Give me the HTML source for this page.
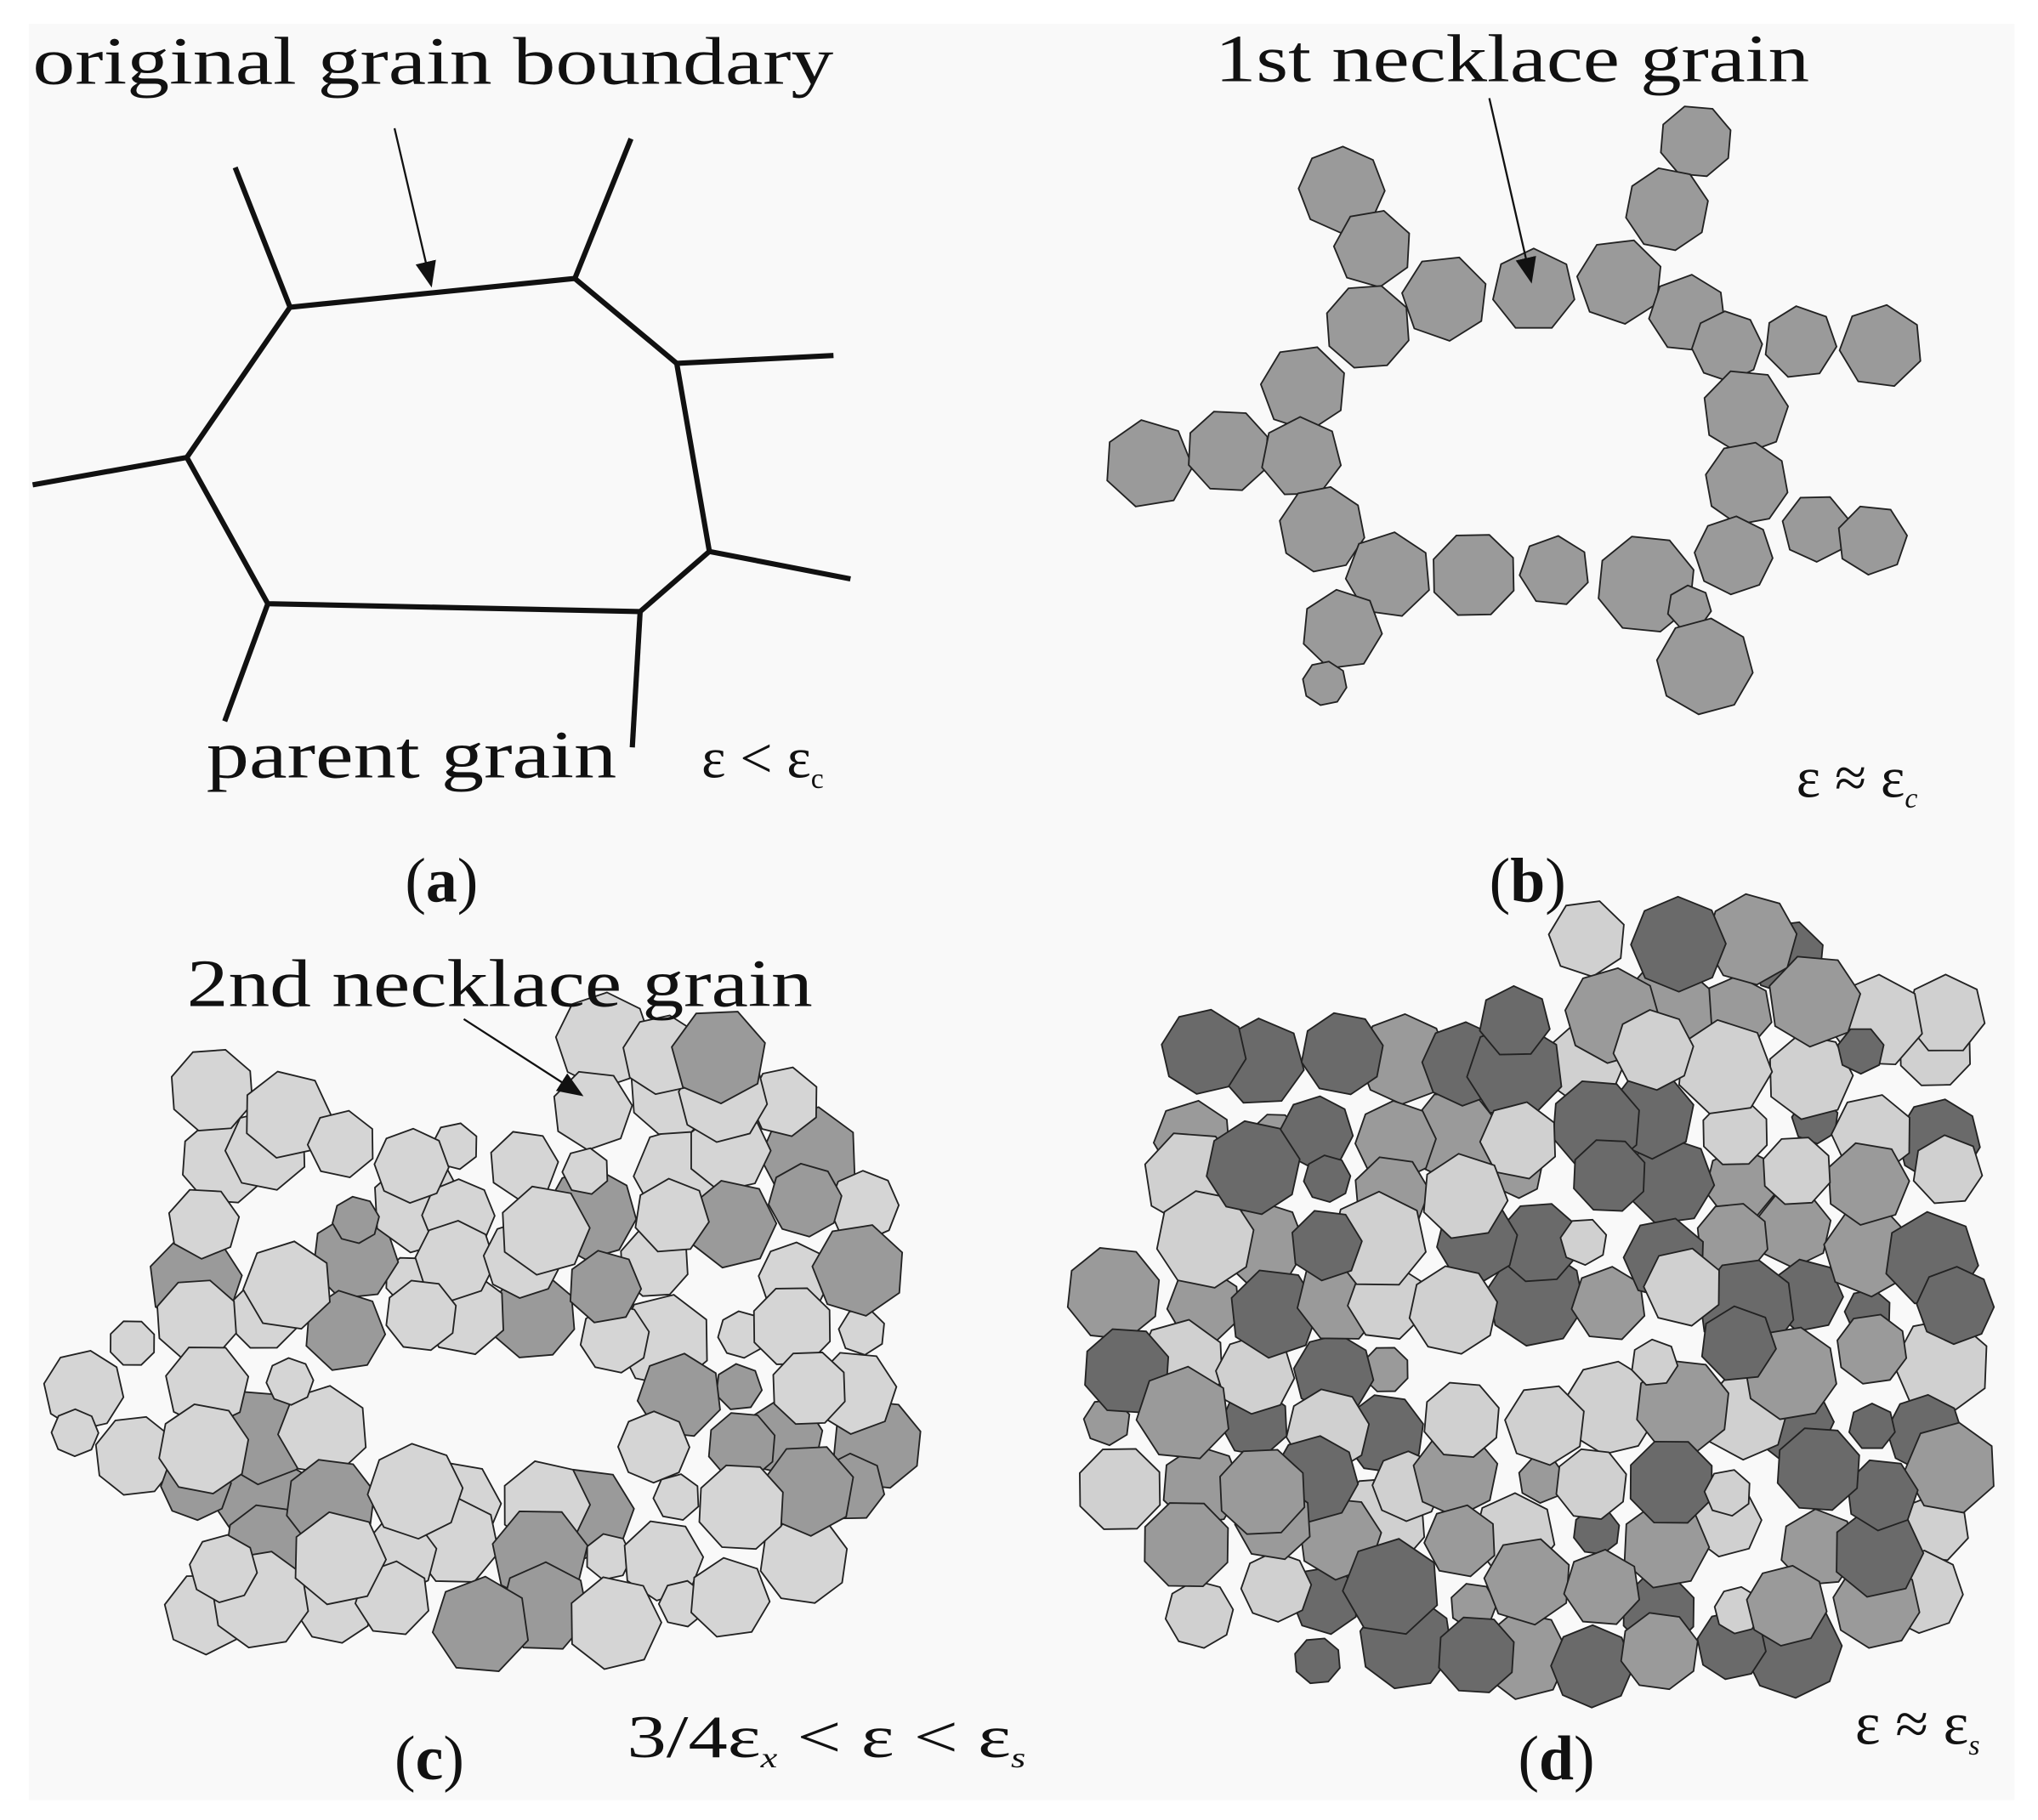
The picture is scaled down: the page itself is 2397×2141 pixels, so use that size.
<!DOCTYPE html>
<html><head><meta charset="utf-8">
<style>
html,body{margin:0;padding:0;background:#fff;}
svg{display:block;}
text{font-family:"Liberation Serif",serif;fill:#111;}
</style></head>
<body>
<svg id="s" width="2397" height="2141" viewBox="0 0 1560 1393" xmlns="http://www.w3.org/2000/svg">
<defs><marker id="ah2" markerWidth="20" markerHeight="16" refX="18" refY="8" orient="auto" markerUnits="userSpaceOnUse"><path d="M0,0 L20,8 L0,16 z" fill="#111"/></marker></defs>
<rect x="0" y="0" width="1560" height="1393" fill="#fff"/>
<rect x="22" y="18" width="1520" height="1360" fill="#f9f9f9"/>
<g id="a" stroke="#111" stroke-width="4" fill="none" stroke-linejoin="round">
<polygon points="222,235 440,213 518,278 543,422 490,468 205,462 143,350"/>
<line x1="222" y1="235" x2="180" y2="128"/><line x1="440" y1="213" x2="483" y2="106"/>
<line x1="518" y1="278" x2="638" y2="272"/><line x1="543" y1="422" x2="651" y2="443"/>
<line x1="490" y1="468" x2="484" y2="572"/><line x1="205" y1="462" x2="172" y2="552"/>
<line x1="143" y1="350" x2="25" y2="371"/>
</g>
<line x1="302" y1="98" x2="330" y2="218" stroke="#111" stroke-width="1.5" marker-end="url(#ah2)"/>
<g id="b"></g><g id="c"></g><g id="d"></g>
<line x1="1140" y1="75" x2="1172" y2="215" stroke="#111" stroke-width="1.5" marker-end="url(#ah2)"/>
<line x1="355" y1="780" x2="445" y2="838" stroke="#111" stroke-width="1.5" marker-end="url(#ah2)"/>
<text x="25" y="64" font-size="52" textLength="613" lengthAdjust="spacingAndGlyphs">original grain boundary</text>
<text x="158" y="595" font-size="52" textLength="314" lengthAdjust="spacingAndGlyphs">parent grain</text>
<text x="537" y="595" font-size="44">ε &lt; ε<tspan font-size="22" dy="8">c</tspan></text>
<text x="310" y="690" font-size="48">(<tspan font-weight="bold">a</tspan>)</text>
<text x="930" y="62" font-size="52" textLength="455" lengthAdjust="spacingAndGlyphs">1st necklace grain</text>
<text x="1375" y="610" font-size="44">ε ≈ ε<tspan font-size="22" dy="8" font-style="italic">c</tspan></text>
<text x="1140" y="690" font-size="48">(<tspan font-weight="bold">b</tspan>)</text>
<text x="143" y="770" font-size="52" textLength="479" lengthAdjust="spacingAndGlyphs">2nd necklace grain</text>
<text x="480" y="1345" font-size="46" textLength="305" lengthAdjust="spacingAndGlyphs">3/4ε<tspan font-size="22" dy="8" font-style="italic">x</tspan><tspan dy="-8"> &lt; ε &lt; ε</tspan><tspan font-size="22" dy="8" font-style="italic">s</tspan></text>
<text x="302" y="1362" font-size="48">(<tspan font-weight="bold">c</tspan>)</text>
<text x="1162" y="1362" font-size="48">(<tspan font-weight="bold">d</tspan>)</text>
<text x="1420" y="1335" font-size="46">ε ≈ ε<tspan font-size="22" dy="8" font-style="italic">s</tspan></text>
</svg>
<script>
var NS="http://www.w3.org/2000/svg";
var seed=7;function rnd(){seed=(seed*16807)%2147483647;return (seed-1)/2147483646;}
function poly(g,cx,cy,r,fill,n,rot){var p=[];for(var i=0;i<n;i++){var a=rot+i*2*Math.PI/n;p.push((cx+r*Math.cos(a)).toFixed(1)+","+(cy+r*Math.sin(a)).toFixed(1));}
var e=document.createElementNS(NS,"polygon");e.setAttribute("points",p.join(" "));e.setAttribute("fill",fill);e.setAttribute("stroke","#222");e.setAttribute("stroke-width","1.2");g.appendChild(e);}
var B=[[1027,145,33],[1298,108,28],[1051,190,30],[1276,160,32],[1106,228,33],[1174,222,32],[1240,215,33],[1047,250,33],[1292,240,30],[1378,262,28],[1440,265,32],[1322,265,27],[998,297,33],[1336,315,33],[879,355,34],[940,345,32],[996,350,31],[1337,370,32],[1012,405,33],[1390,404,26],[1433,413,27],[1327,425,30],[1063,440,33],[1128,440,33],[1190,437,27],[1260,447,38],[1293,465,17],[1027,482,31],[1305,510,37],[1014,523,17]];
var gb=document.getElementById("b");
B.forEach(function(c){poly(gb,c[0],c[1],c[2],"#9a9a9a",7+(rnd()<0.5?1:0),rnd()*6);});
function field(g,x0,x1,y0,y1,inside,cols,step){var L=[];
for(var y=y0;y<=y1;y+=step*0.87){for(var x=x0;x<=x1;x+=step){var cx=x+(rnd()-0.5)*step*0.5,cy=y+(rnd()-0.5)*step*0.5;if(!inside(cx,cy))continue;L.push([cx,cy]);}}
for(var i=L.length-1;i>0;i--){var j=Math.floor(rnd()*(i+1));var t=L[i];L[i]=L[j];L[j]=t;}
L.forEach(function(c){var r=26+rnd()*12;if(rnd()<0.1)r=18;poly(g,c[0],c[1],r,cols[Math.floor(rnd()*cols.length)],7+(rnd()<0.5?1:0),rnd()*6);});}
field(document.getElementById("c"),60,680,800,1260,function(x,y){
 var hx=(x-365)/130,hy=(y-1070)/48;if(hx*hx+hy*hy<1)return false;
 if(y<830&&(x<420||x>560))return false; if(y<900&&x<140)return false;
 if(y<1010&&x<140)return false; if(y>1150&&x<140)return false;
 if(y>1200&&x>560)return false; if(x>650&&(y<920||y>1150))return false;
 if(y<860&&x>250&&x<420)return false;
 return rnd()<0.97;},["#d5d5d5","#d5d5d5","#9a9a9a"],50);
field(document.getElementById("d"),860,1505,725,1280,function(x,y){
 var hx=(x-1175)/60,hy=(y-1030)/22;if(hx*hx+hy*hy<1)return false;
 if(y<770&&(x<1210||x>1420))return false; if(y<790&&x<930)return false;
 if(y<990&&x<890)return false; if(y>1250&&(x<1000||x>1400))return false;
 if(y>1150&&x<900)return false;
 return true;},["#d0d0d0","#9a9a9a","#6a6a6a"],52);
</script>
</body></html>
